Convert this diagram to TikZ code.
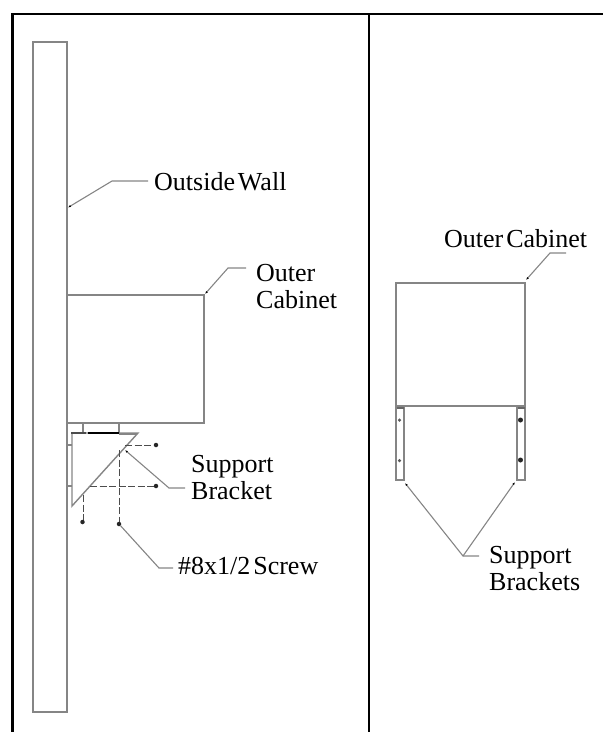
\documentclass[tikz,border=0pt]{standalone}
\usepackage{fontspec}
\setmainfont[WordSpace=0.45]{Liberation Serif}
\usetikzlibrary{arrows.meta}
\definecolor{linegray}{gray}{0.52}
\tikzset{
    part/.style={draw=linegray,line width=1.4pt},
    leader/.style={draw=linegray,line width=1.1pt},
    leadertip/.style={leader,-{Latex[length=3pt,width=2.2pt,black]}},
    screwline/.style={draw=black!70,line width=1pt,dash pattern=on 7pt off 2.5pt},
    caption/.style={font=\fontsize{26}{28}\selectfont,inner sep=0pt},
    tipdot/.style={fill=black!85,inner sep=0pt,minimum size=4.5pt,circle}
}
\begin{document}
\begin{tikzpicture}[x=1pt,y=-1pt]
    \useasboundingbox (0,0) rectangle (603,732);

    % frame
    \draw[line width=2.4pt] (12.5,732) -- (12.5,13.7) -- (603,13.7);
    \draw[line width=2.4pt] (369,13.7) -- (369,732);

    % left view
    \draw[part] (33,42) rectangle (67,712);
    \draw[part] (67,295) -- (204,295) -- (204,423) -- (67,423);
    \draw[part] (83,423) -- (83,433);
    \draw[part] (119,423) -- (119,433);
    \draw[part] (72,506) -- (72,433) -- (138,433) -- cycle;
    \draw[line width=1.6pt,black!70] (71.3,432.7) -- (86,432.7);
    \draw[line width=1.3pt,black] (88,433) -- (119,433);
    \draw[line width=2pt,linegray] (119,433.5) -- (137,433.5);
    \draw[part] (67,445) -- (72,445);
    \draw[part] (67,486) -- (72,486);
    \draw[screwline] (125,445) -- (155,445);
    \draw[screwline] (90,486) -- (155,486);
    \draw[screwline] (83,495) -- (83,521);
    \draw[screwline] (119,450) -- (119,522);
    \node[tipdot] (tipa) at (156,445) {};
    \node[tipdot] (tipb) at (156,486) {};
    \node[tipdot] (tipc) at (82.5,522) {};
    \node[tipdot] (tipd) at (119,524) {};

    \node[caption,anchor=base west] (wall) at (154,190.5) {Outside Wall};
    \node[caption,anchor=base west] (cabinet) at (256,281) {Outer};
    \node[caption,anchor=base west] (cabinettwo) at (256,308.5) {Cabinet};
    \node[caption,anchor=base west] (bracket) at (191,472) {Support};
    \node[caption,anchor=base west] (brackettwo) at (191,499.5) {Bracket};
    \node[caption,anchor=base west] (screw) at (178,574) {\#8x1/2 Screw};

    \coordinate (wallend) at (68,207.5);
    \coordinate (wallknee) at (112,181);
    \coordinate (wallfree) at (148,181);
    \coordinate (cabinetend) at (205,294);
    \coordinate (cabinetknee) at (228,268);
    \coordinate (cabinetfree) at (246,268);
    \coordinate (bracketend) at (125,450);
    \coordinate (bracketknee) at (169,488);
    \coordinate (bracketfree) at (185,488);
    \coordinate (screwknee) at (159,568);
    \coordinate (screwfree) at (173,568);
    \draw[leadertip] (wallfree) -- (wallknee) -- (wallend);
    \draw[leadertip] (cabinetfree) -- (cabinetknee) -- (cabinetend);
    \draw[leadertip] (bracketfree) -- (bracketknee) -- (bracketend);
    \draw[leader] (screwfree) -- (screwknee) -- (tipd);

    % right view
    \draw[part] (396,283) rectangle (525,406);
    \draw[part] (396,406) -- (396,480) -- (404,480) -- (404,406);
    \draw[part] (517,406) -- (517,480) -- (525,480) -- (525,406);
    \draw[line width=1.6pt,black!60] (396.5,408) -- (403.5,408);
    \draw[line width=1.6pt,black!60] (517.5,408) -- (524.5,408);
    \node[tipdot,minimum size=3.5pt,fill=black!65] (lefttop) at (399.5,420) {};
    \node[tipdot,minimum size=3.5pt,fill=black!65] (leftlow) at (399.5,460.5) {};
    \node[tipdot,minimum size=5pt] (righttop) at (520.5,420) {};
    \node[tipdot,minimum size=5pt] (rightlow) at (520.5,460) {};

    \node[caption,anchor=base west] (outer) at (444,247) {Outer Cabinet};
    \node[caption,anchor=base west] (brackets) at (489,563) {Support};
    \node[caption,anchor=base west] (bracketstwo) at (489,590) {Brackets};

    \coordinate (outerend) at (526,280);
    \coordinate (outerknee) at (550,253);
    \coordinate (outerfree) at (566,253);
    \coordinate (lefthit) at (405,483);
    \coordinate (righthit) at (515,482);
    \coordinate (splitknee) at (463,556);
    \coordinate (splitfree) at (479,556);
    \draw[leadertip] (outerfree) -- (outerknee) -- (outerend);
    \draw[leadertip] (splitfree) -- (splitknee) -- (lefthit);
    \draw[leadertip] (splitknee) -- (righthit);
\end{tikzpicture}
\end{document}
